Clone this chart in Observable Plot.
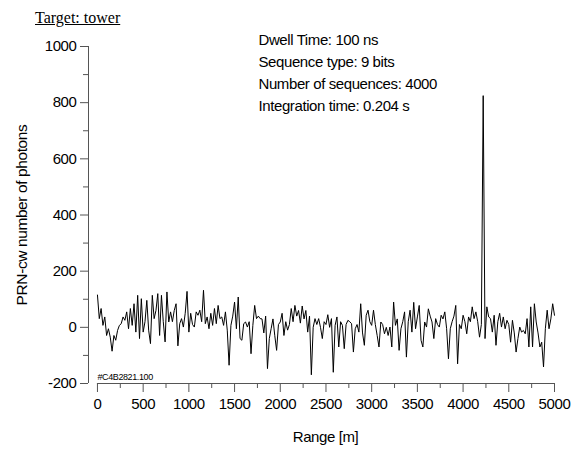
<!DOCTYPE html>
<html>
<head>
<meta charset="utf-8">
<script src="https://cdn.jsdelivr.net/npm/d3@7"></script>
<script src="https://cdn.jsdelivr.net/npm/@observablehq/plot@0.6"></script>
<style>
  body { margin: 0; background: #fff; }
  #title {
    height: 18px; padding-top: 10px; padding-left: 35px;
    font-family: "Liberation Serif", "Times New Roman", serif;
    font-size: 16px; line-height: 16px; text-decoration: underline; color: #000;
  }
  svg text { letter-spacing: -0.4px; }
  svg text.ylab { letter-spacing: 0px; }
</style>
</head>
<body>
<div id="title">Target: tower</div>
<div id="chart"></div>
<script>
const titleText = "Target: tower";
const rangeStart = 0;        // m
const rangeStep = 20;        // m per bin
const photons = [
  115, 31, 67, 7, 37, -29, -5, -35, -85, -29,
  -46, -11, 7, 13, 37, 25, 55, -5, 67, 7,
  84, -17, 114, -40, 102, -17, 20, 96, -10, -58,
  114, 31, 60, 120, -29, 114, 20, -52, 126, 19,
  55, 20, 60, 84, -66, 13, 31, 1, 50, 128,
  -17, 50, 10, 1, 55, 43, 61, 20, 132, 13,
  37, -5, 50, 7, 67, 13, 78, 31, 37, 7,
  55, -10, -135, 7, 40, 90, -5, 108, -40, -46,
  13, 19, 1, 20, -94, 7, 78, 31, 40, 31,
  30, -20, 40, -147, -40, -5, 30, -30, -82, 10,
  19, 50, -29, 20, -10, 10, 67, 20, 78, 40,
  60, 15, 76, 30, 60, -17, 40, -169, 0, 31,
  10, 31, 0, -40, 20, 10, 45, 0, 31, -160,
  7, 37, -70, 20, 7, -76, 10, 25, 20, 13,
  -88, -5, 10, -17, 84, -20, -64, 43, 61, 20,
  7, 61, 10, -29, -70, 19, 10, -23, 0, -29,
  1, -70, 90, 7, 30, -82, -5, 20, 55, -106,
  20, 61, -17, 89, -5, 37, 78, -46, -70, 19,
  1, 66, 40, 19, -40, 31, 10, 1, 43, 30,
  55, -5, -112, -5, 20, 40, 78, -130, 10, -5,
  43, 20, -23, 37, 20, 73, 31, 55, 20, -35,
  10, 825, -40, 73, 37, 31, -17, 43, -64, 20,
  50, 1, 37, -5, 25, 10, -53, 25, -20, -88,
  -40, 1, -17, -11, -23, 31, -70, 73, -70, 84,
  19, -20, -70, -53, -141, -5, 61, -5, 30, 84,
  43
];
const xMajorTicks = [0, 500, 1000, 1500, 2000, 2500, 3000, 3500, 4000, 4500, 5000];
const xMinorTicks = [250, 750, 1250, 1750, 2250, 2750, 3250, 3750, 4250, 4750];
const yMajorTicks = [-200, 0, 200, 400, 600, 800, 1000];
const yMinorTicks = [-100, 100, 300, 500, 700, 900];
const annotationLines = [
  "Dwell Time: 100 ns",
  "Sequence type: 9 bits",
  "Number of sequences: 4000",
  "Integration time: 0.204 s"
];
const xLabel = "Range [m]";
const yLabel = "PRN-cw number of photons";
const runId = "#C4B2821.100";

const data = photons.map((v, i) => ({range: rangeStart + i * rangeStep, value: v}));
const axisColor = "#555";

const chart = Plot.plot({
  width: 576,
  height: 421,
  marginTop: 18,
  marginBottom: 66,
  marginLeft: 88,
  marginRight: 22,
  x: {domain: [-98, 5000]},
  y: {domain: [-200, 1000]},
  style: {fontFamily: "'Liberation Sans', Arial, sans-serif", fontSize: "15px", color: "#000", background: "#fff", overflow: "visible"},
  marks: [
    Plot.ruleX([-98], {y1: -200, y2: 1000, stroke: axisColor, strokeWidth: 1}),
    Plot.ruleY([-200], {x1: 0, x2: 5000, stroke: axisColor, strokeWidth: 1}),
    Plot.axisY({ticks: yMajorTicks, tickSize: 8, tickPadding: 4, tickFormat: d => String(d), label: null, stroke: axisColor, fill: "#000"}),
    Plot.axisY({ticks: yMinorTicks, tickSize: 5, text: null, label: null, stroke: axisColor}),
    Plot.axisX({ticks: xMajorTicks, tickSize: 9, tickPadding: 6, tickFormat: d => String(d), label: null, stroke: axisColor, fill: "#000"}),
    Plot.axisX({ticks: xMinorTicks, tickSize: 5, text: null, label: null, stroke: axisColor}),
    Plot.line(data, {x: "range", y: "value", stroke: "#000", strokeWidth: 1}),
    Plot.text([annotationLines.join("\n")], {frameAnchor: "top-left", dx: 170, dy: -17, lineAnchor: "top", textAnchor: "start", lineHeight: 1.47, fontSize: 15}),
    Plot.text([runId], {frameAnchor: "bottom-left", dx: 9, dy: -4, lineAnchor: "bottom", textAnchor: "start", fontSize: 9}),
    Plot.text([xLabel], {frameAnchor: "bottom", dx: 4, dy: 54, lineAnchor: "middle", fontSize: 15}),
    Plot.text([yLabel], {frameAnchor: "left", dx: -66, rotate: -90, lineAnchor: "middle", textAnchor: "middle", fontSize: 15.5, className: "ylab"})
  ]
});
document.getElementById("chart").appendChild(chart);
</script>
</body>
</html>
